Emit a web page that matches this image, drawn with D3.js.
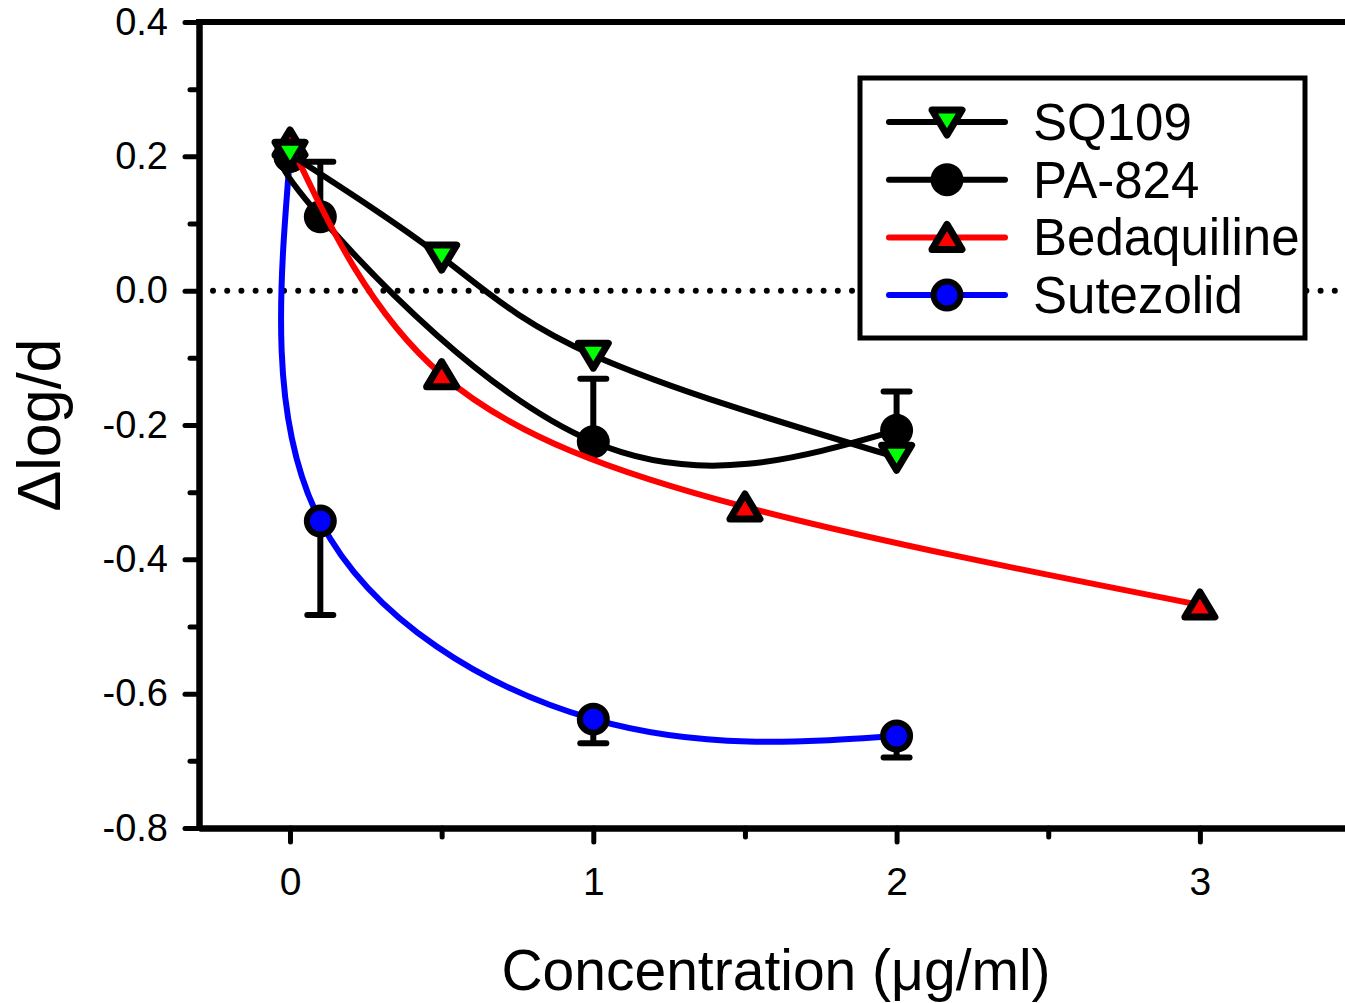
<!DOCTYPE html>
<html>
<head>
<meta charset="utf-8">
<script src="https://cdn.jsdelivr.net/npm/d3@7"></script>
<style>
  body { margin: 0; background: #fff; }
  svg { display: block; }
  text { font-family: "Liberation Sans", Arial, sans-serif; fill: #000; }
</style>
</head>
<body>
<svg id="chart" width="1345" height="1003"></svg>
<script>
// tick values
const xMajor = [0, 1, 2, 3];
const xMinor = [0.5, 1.5, 2.5];
const yMajor = [-0.8, -0.6, -0.4, -0.2, 0, 0.2, 0.4];
const yMinor = [-0.7, -0.5, -0.3, -0.1, 0.1, 0.3];

// series
const concSQ109 = [0, 0.5, 1, 2];
const valSQ109 = [0.203, 0.05, -0.096, -0.248];

const concPA824 = [0, 0.1, 1, 2];
const valPA824 = [0.2, 0.11, -0.225, -0.208];
const errPA824 = [0, 0.082, 0.094, 0.058];   // upper bars only

const concBdq = [0, 0.5, 1.5, 3];
const valBdq = [0.22, -0.125, -0.322, -0.468];

const concSut = [0, 0.1, 1, 2];
const valSut = [0.2, -0.343, -0.638, -0.663];
const errSut = [0, 0.14, 0.036, 0.032];      // lower bars only

const legendNames = ['SQ109', 'PA-824', 'Bedaquiline', 'Sutezolid'];

const svg = d3.select('#chart');
const x = d3.scaleLinear().domain([-0.3, 3.5]).range([199, 199 + 3.8 * 303.3]);
const y = d3.scaleLinear().domain([-0.8, 0.4]).range([828, 22]);
const fmt = v => d3.format('.1f')(v).replace('\u2212', '-');

// zero reference line (dotted)
svg.append('line')
    .attr('x1', x(-0.3) + 14).attr('x2', 1345)
    .attr('y1', y(0)).attr('y2', y(0))
    .attr('stroke', '#000').attr('stroke-width', 6)
    .attr('stroke-linecap', 'round').attr('stroke-dasharray', '0 14.2');

// axes
const yAxis = svg.append('g').attr('transform', `translate(${x(-0.3)},0)`)
    .call(d3.axisLeft(y).tickValues(yMajor).tickFormat(fmt).tickSize(14).tickSizeOuter(0).tickPadding(17));
const yMinorAxis = svg.append('g').attr('transform', `translate(${x(-0.3)},0)`)
    .call(d3.axisLeft(y).tickValues(yMinor).tickFormat('').tickSize(9).tickSizeOuter(0));
const xAxis = svg.append('g').attr('transform', `translate(0,${y(-0.8)})`)
    .call(d3.axisBottom(x).tickValues(xMajor).tickFormat(d3.format('d')).tickSize(14).tickSizeOuter(0));
const xMinorAxis = svg.append('g').attr('transform', `translate(0,${y(-0.8)})`)
    .call(d3.axisBottom(x).tickValues(xMinor).tickFormat('').tickSize(9).tickSizeOuter(0));

[yAxis, yMinorAxis, xAxis, xMinorAxis].forEach(g => {
    g.select('.domain').attr('stroke', '#000').attr('stroke-width', 6);
    g.selectAll('.tick line').attr('stroke', '#000').attr('stroke-width', 5).attr('stroke-linecap', 'round');
});
yAxis.selectAll('.tick text').attr('font-size', 38).attr('font-family', '"Liberation Sans", Arial, sans-serif');
xAxis.selectAll('.tick text').attr('font-size', 39).attr('y', 67).attr('dy', 0)
    .attr('font-family', '"Liberation Sans", Arial, sans-serif');

// top frame line
svg.append('line')
    .attr('x1', x(-0.3) - 3).attr('x2', 1345).attr('y1', y(0.4)).attr('y2', y(0.4))
    .attr('stroke', '#000').attr('stroke-width', 6);

// axis titles
svg.append('text')
    .attr('x', 776).attr('y', 990).attr('text-anchor', 'middle')
    .attr('font-size', 57).text('Concentration (\u03bcg/ml)');
svg.append('text')
    .attr('transform', 'translate(60,425) rotate(-90)').attr('text-anchor', 'middle')
    .attr('font-size', 61).text('\u0394log/d');

// markers
const triUp = 'M0,-13L15,12L-15,12Z';
const triDown = 'M0,13L15,-12L-15,-12Z';

function drawMarker(g, kind, cx, cy) {
    if (kind === 'down' || kind === 'up') {
        g.append('path')
            .attr('d', kind === 'up' ? triUp : triDown)
            .attr('transform', `translate(${cx},${cy})`)
            .attr('fill', kind === 'up' ? '#ff0000' : '#00ff00')
            .attr('stroke', '#000').attr('stroke-width', 7).attr('stroke-linejoin', 'round');
    } else if (kind === 'black') {
        g.append('circle').attr('cx', cx).attr('cy', cy).attr('r', 16.5).attr('fill', '#000');
    } else {
        g.append('circle').attr('cx', cx).attr('cy', cy).attr('r', 13.5)
            .attr('fill', '#0000ff').attr('stroke', '#000').attr('stroke-width', 6);
    }
}

const line = d3.line().curve(d3.curveNatural).x(d => x(d[0])).y(d => y(d[1]));

function drawSeries(conc, vals, color, kind, errs, dir) {
    const g = svg.append('g');
    const pts = conc.map((c, i) => [c, vals[i]]);
    g.append('path').datum(pts).attr('d', line)
        .attr('fill', 'none').attr('stroke', color).attr('stroke-width', 6);
    if (errs) {
        pts.forEach((p, i) => {
            if (!errs[i]) return;
            const end = p[1] + dir * errs[i];
            g.append('line').attr('x1', x(p[0])).attr('x2', x(p[0]))
                .attr('y1', y(p[1])).attr('y2', y(end))
                .attr('stroke', '#000').attr('stroke-width', 6);
            g.append('line').attr('x1', x(p[0]) - 13).attr('x2', x(p[0]) + 13)
                .attr('y1', y(end)).attr('y2', y(end))
                .attr('stroke', '#000').attr('stroke-width', 6).attr('stroke-linecap', 'round');
        });
    }
    pts.forEach(p => drawMarker(g, kind, x(p[0]), y(p[1])));
}

drawSeries(concSut, valSut, '#0000ff', 'blue', errSut, -1);
drawSeries(concPA824, valPA824, '#000', 'black', errPA824, 1);
drawSeries(concBdq, valBdq, '#ff0000', 'up', null, 0);
drawSeries(concSQ109, valSQ109, '#000', 'down', null, 0);

// legend
const legend = svg.append('g');
legend.append('rect')
    .attr('x', 860).attr('y', 78).attr('width', 445).attr('height', 260)
    .attr('fill', '#fff').attr('stroke', '#000').attr('stroke-width', 5);
const legendColors = ['#000', '#000', '#ff0000', '#0000ff'];
const legendKinds = ['down', 'black', 'up', 'blue'];
legendNames.forEach((name, i) => {
    const ly = 122 + i * 57.7;
    legend.append('line').attr('x1', 889).attr('x2', 1005).attr('y1', ly).attr('y2', ly)
        .attr('stroke', legendColors[i]).attr('stroke-width', 6).attr('stroke-linecap', 'round');
    drawMarker(legend, legendKinds[i], 947, ly);
    legend.append('text').attr('x', 1033).attr('y', ly + 18).attr('font-size', 51).text(name);
});
</script>
</body>
</html>
